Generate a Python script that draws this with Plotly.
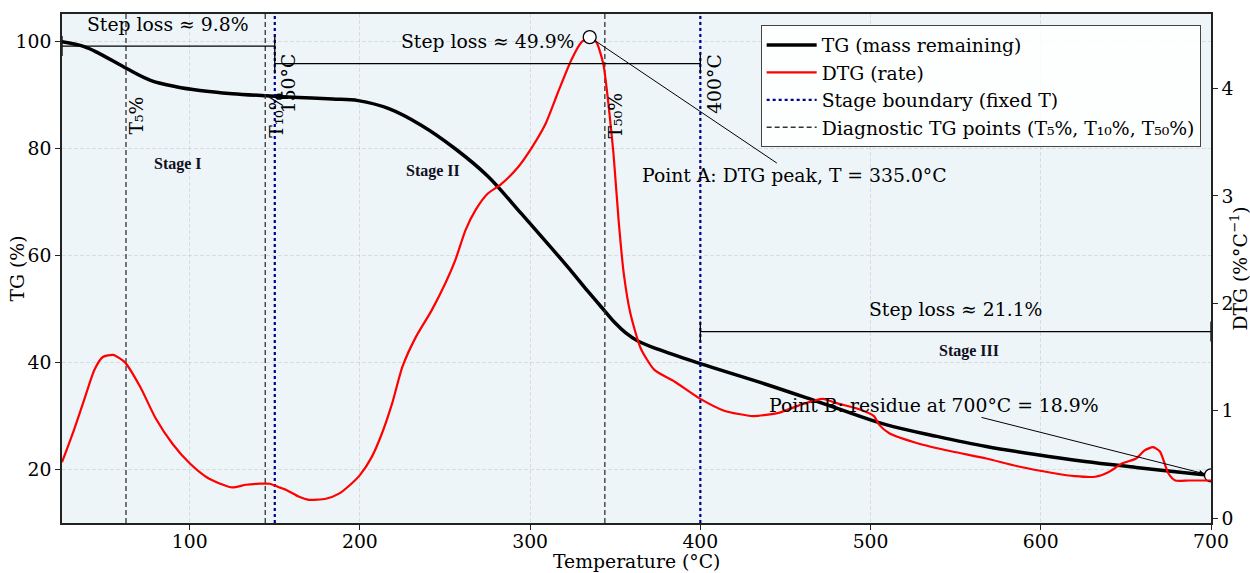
import plotly.graph_objects as go

# ---------------- data ----------------
temp_tg = [25, 38, 47, 63, 77, 92, 106, 125, 145, 164, 184, 199, 217, 236, 256, 275,
           295, 314, 325, 334, 344, 350, 356, 363, 375, 400, 438, 468, 480, 509, 539,
           568, 597, 626, 656, 693, 700]
tg = [100, 99.1, 97.8, 95, 92.8, 91.6, 90.9, 90.3, 89.9, 89.6, 89.3, 89.0, 87.5, 84.4,
      80.0, 74.9, 67.8, 60.9, 56.8, 53.3, 49.6, 47.4, 45.6, 44.1, 42.5, 39.8, 36.0, 32.8,
      31.5, 28.4, 26.2, 24.3, 22.8, 21.5, 20.4, 19.1, 18.9]

temp_dtg = [25, 32, 38, 44, 49, 55, 62, 71, 80, 90,
            100, 110, 118, 125, 133, 141, 147, 152, 157, 164,
            170, 180, 188, 195, 200, 207, 213, 219, 225, 233,
            242, 250, 256, 262, 268, 275, 283, 293, 301, 309,
            316, 324, 330, 335, 339, 343, 346, 349, 352, 355,
            359, 365, 373, 385, 400, 414, 431, 446, 458, 472,
            480, 492, 502, 505, 511, 529, 548, 568, 587, 607,
            620, 632, 640, 648, 656, 661, 666, 670, 675, 679,
            687, 700]
dtg = [0.52, 0.82, 1.10, 1.38, 1.50, 1.52, 1.45, 1.22, 0.93, 0.69,
       0.51, 0.38, 0.32, 0.285, 0.31, 0.32, 0.32, 0.29, 0.26, 0.20,
       0.17, 0.18, 0.23, 0.32, 0.40, 0.57, 0.79, 1.07, 1.41, 1.69,
       1.93, 2.18, 2.40, 2.68, 2.87, 3.02, 3.11, 3.27, 3.45, 3.67,
       3.95, 4.26, 4.43, 4.48, 4.43, 4.23, 3.86, 3.39, 2.77, 2.28,
       1.90, 1.58, 1.38, 1.27, 1.11, 1.00, 0.95, 0.98, 1.05, 1.11,
       1.07, 1.02, 0.95, 0.87, 0.79, 0.69, 0.62, 0.555, 0.48, 0.42,
       0.39, 0.385, 0.43, 0.51, 0.555, 0.63, 0.66, 0.62, 0.415, 0.35,
       0.35, 0.35]

diag_names = ["T₅%", "T₁₀%", "T₅₀%"]
diag_temps = [62.6, 144.4, 343.9]
diag_label_tg = 86.2

stage_bounds = [25, 150, 400, 700]
boundary_temps = [150, 400]
boundary_labels = ["150°C", "400°C"]
boundary_label_tg = 92.2

stage_names = ["Stage I", "Stage II", "Stage III"]
stage_label_T = [93, 243, 558]
stage_label_tg = [77.2, 75.8, 42.2]

step_losses = [9.8, 49.9, 21.1]
step_levels = [99.2, 95.9, 45.8]

peak_T, peak_dtg = 335.0, 4.48
residue_T, residue = 700, 18.9

x_range = [25, 700]
y1_range = [10, 105.2]
y2_range = [-0.046, 4.695]

FONT = "DejaVu Serif"
FS = 18.8
AX = "#222222"
GRID = "rgba(150,150,150,0.25)"

# ---------------- figure ----------------
fig = go.Figure()

fig.add_trace(go.Scatter(x=temp_tg, y=tg, mode="lines", name="TG (mass remaining)",
                         line=dict(color="black", width=3.5, shape="spline", smoothing=1.0),
                         yaxis="y"))

bx, by = [], []
for t in boundary_temps:
    bx += [t, t, None]
    by += [y1_range[0], y1_range[1], None]
dx, dy = [], []
for t in diag_temps:
    dx += [t, t, None]
    dy += [y1_range[0], y1_range[1], None]

fig.add_trace(go.Scatter(x=temp_dtg, y=dtg, mode="lines", name="DTG (rate)",
                         line=dict(color="#ff0000", width=2.2, shape="spline", smoothing=0.6),
                         yaxis="y2"))
fig.add_trace(go.Scatter(x=bx, y=by, mode="lines", name="Stage boundary (fixed T)",
                         line=dict(color="#00008b", width=2.2, dash="dot"), yaxis="y",
                         hoverinfo="skip"))
fig.add_trace(go.Scatter(x=dx, y=dy, mode="lines",
                         name="Diagnostic TG points (T₅%, T₁₀%, T₅₀%)",
                         line=dict(color="#333333", width=1.3, dash="5px,3px"), yaxis="y",
                         hoverinfo="skip"))

fig.add_trace(go.Scatter(x=[peak_T], y=[peak_dtg], mode="markers", showlegend=False,
                         marker=dict(size=13, color="white", line=dict(color="black", width=1.3)),
                         yaxis="y2"))
fig.add_trace(go.Scatter(x=[residue_T], y=[residue], mode="markers", showlegend=False,
                         marker=dict(size=13, color="white", line=dict(color="black", width=1.3)),
                         yaxis="y"))

shapes = []
annotations = []

for i, loss in enumerate(step_losses):
    x0, x1 = stage_bounds[i], stage_bounds[i + 1]
    lvl = step_levels[i]
    shapes.append(dict(type="line", xref="x", yref="y", x0=x0, x1=x1, y0=lvl, y1=lvl,
                       line=dict(color="black", width=1.3)))
    for xe in (x0, x1):
        shapes.append(dict(type="line", xref="x", yref="y", ysizemode="pixel", yanchor=lvl,
                           x0=xe, x1=xe, y0=-10, y1=10, line=dict(color="black", width=1.3)))
    annotations.append(dict(x=(x0 + x1) / 2, y=lvl, xref="x", yref="y", yshift=22,
                            xanchor="center", yanchor="middle",
                            text=f"Step loss ≈ {loss}%", showarrow=False,
                            font=dict(family=FONT, size=FS, color="black")))

for name, t, v in zip(stage_names, stage_label_T, stage_label_tg):
    annotations.append(dict(x=t, y=v, xref="x", yref="y", text=f"<b>{name}</b>",
                            xanchor="center", yanchor="middle", showarrow=False,
                            font=dict(family="Liberation Serif", size=16, color="#111122")))

for name, t in zip(diag_names, diag_temps):
    annotations.append(dict(x=t, y=diag_label_tg, xref="x", yref="y", xshift=11,
                            xanchor="center", yanchor="middle",
                            text=name, textangle=-90, showarrow=False,
                            font=dict(family=FONT, size=FS, color="black")))

for name, t in zip(boundary_labels, boundary_temps):
    annotations.append(dict(x=t, y=boundary_label_tg, xref="x", yref="y", xshift=14,
                            xanchor="center", yanchor="middle",
                            text=name, textangle=-90, showarrow=False,
                            font=dict(family=FONT, size=FS, color="black")))

annotations.append(dict(x=peak_T, y=peak_dtg, xref="x", yref="y2",
                        text=f"Point A: DTG peak, T = {peak_T:.1f}°C",
                        showarrow=True, arrowhead=0, arrowwidth=1, arrowcolor="black",
                        ax=205, ay=138, standoff=6,
                        font=dict(family=FONT, size=FS, color="black")))
annotations.append(dict(x=residue_T, y=residue, xref="x", yref="y",
                        text=f"Point B: residue at {residue_T}°C = {residue}%",
                        showarrow=True, arrowhead=2, arrowsize=1, arrowwidth=1,
                        arrowcolor="black", ax=-277, ay=-70, standoff=7,
                        font=dict(family=FONT, size=FS, color="black")))

annotations.append(dict(x=-0.0383, y=0.5, xref="paper", yref="paper", text="TG (%)",
                        xanchor="center", yanchor="middle",
                        textangle=-90, showarrow=False,
                        font=dict(family=FONT, size=FS, color="black")))
annotations.append(dict(x=1.0236, y=0.5, xref="paper", yref="paper",
                        xanchor="center", yanchor="middle",
                        text="DTG (%°C<sup>−1</sup>)", textangle=-90, showarrow=False,
                        font=dict(family=FONT, size=FS, color="black")))
annotations.append(dict(x=0.5, y=-0.0765, xref="paper", yref="paper",
                        xanchor="center", yanchor="middle",
                        text="Temperature (°C)", showarrow=False,
                        font=dict(family=FONT, size=FS, color="black")))

axis_common = dict(showline=True, linecolor=AX, linewidth=1.6, ticks="outside", ticklen=5,
                   tickwidth=1.3, tickcolor=AX, zeroline=False, automargin=False,
                   tickfont=dict(family=FONT, size=FS, color="black"))

fig.update_layout(
    width=1250, height=573,
    margin=dict(l=62, r=39, t=14, b=50),
    paper_bgcolor="white", plot_bgcolor="#eef5f9",
    font=dict(family=FONT, size=FS, color="black"),
    xaxis=dict(range=x_range, dtick=100, tick0=0, mirror=True, showgrid=True,
               ticklabelstandoff=-4,
               gridcolor=GRID, griddash="4px,2px", gridwidth=0.8, **axis_common),
    yaxis=dict(range=y1_range, dtick=20, tick0=0, mirror=True, showgrid=True,
               gridcolor=GRID, griddash="4px,2px", gridwidth=0.8, **axis_common),
    yaxis2=dict(range=y2_range, dtick=1, tick0=0, overlaying="y", side="right",
                showgrid=False, **axis_common),
    legend=dict(x=0.991, y=0.978, xanchor="right", yanchor="top", itemwidth=50,
                bgcolor="rgba(255,255,255,0.85)", bordercolor="#444444", borderwidth=1,
                font=dict(family=FONT, size=FS, color="black")),
    shapes=shapes, annotations=annotations, showlegend=True,
)

fig.write_html("out.html", config={"displayModeBar": False},
               post_script="document.body.style.margin='0';")
